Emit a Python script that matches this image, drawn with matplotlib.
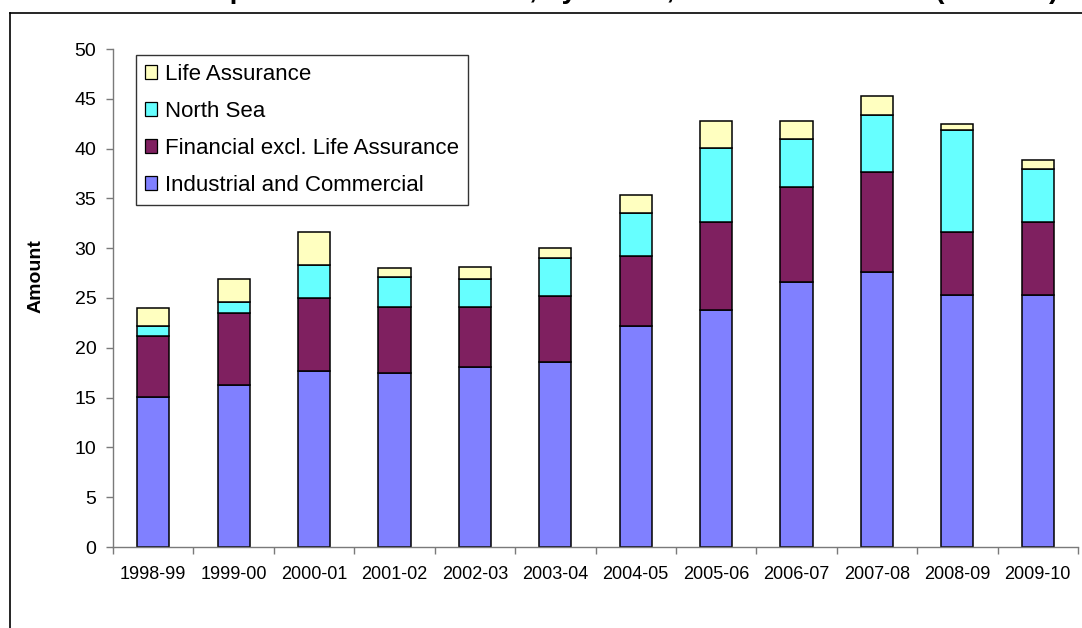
import numpy as np
import matplotlib.pyplot as plt
from matplotlib.patches import Patch
from matplotlib.lines import Line2D

plt.rcParams['font.family'] = ['Liberation Sans', 'DejaVu Sans']

# values, £ billion
years = ['1998-99', '1999-00', '2000-01', '2001-02', '2002-03', '2003-04',
         '2004-05', '2005-06', '2006-07', '2007-08', '2008-09', '2009-10']
industrial = [15.1, 16.3, 17.7, 17.5, 18.1, 18.6, 22.2, 23.8, 26.6, 27.6, 25.3, 25.3]
financial = [6.1, 7.15, 7.3, 6.6, 6.0, 6.6, 7.0, 8.85, 9.55, 10.05, 6.3, 7.3]
north_sea = [1.0, 1.15, 3.3, 3.0, 2.8, 3.8, 4.3, 7.45, 4.8, 5.7, 10.25, 5.4]
life = [1.8, 2.3, 3.3, 0.9, 1.25, 1.0, 1.8, 2.65, 1.8, 1.95, 0.65, 0.9]

series = [('Industrial and Commercial', industrial, '#8080ff'),
          ('Financial excl. Life Assurance', financial, '#7f2060'),
          ('North Sea', north_sea, '#66ffff'),
          ('Life Assurance', life, '#ffffc0')]

W, H = 1082, 628
fig = plt.figure(figsize=(W / 100, H / 100), dpi=100)
ax = fig.add_axes([113 / W, (H - 547) / H, 965 / W, 498 / H])

x = np.arange(len(years))
bottom = np.zeros(len(years))
for name, vals, col in series:
    ax.bar(x, vals, width=0.4, bottom=bottom, color=col,
           edgecolor='black', linewidth=1.1, label=name)
    bottom += np.array(vals)

ax.set_xlim(-0.5, len(years) - 0.5)
ax.set_ylim(0, 50)
ax.set_yticks(range(0, 51, 5))
ax.set_xticks(x)
ax.set_xticklabels(years)
ax.set_xticks(np.arange(-0.5, len(years)), minor=True)

for s in ['top', 'right']:
    ax.spines[s].set_visible(False)
for s in ['left', 'bottom']:
    ax.spines[s].set_color('#7a7a7a')
    ax.spines[s].set_linewidth(1.0)

ax.tick_params(axis='y', direction='out', length=5, width=1.0, color='#7a7a7a',
               labelsize=14, pad=7)
ax.tick_params(axis='x', which='major', length=0, labelsize=13, pad=14)
ax.tick_params(axis='x', which='minor', direction='out', length=5, width=1.0,
               color='#7a7a7a')

ax.set_ylabel('Amount', fontsize=14, fontweight='bold')
ax.yaxis.set_label_coords((45 - 113) / 965, (547 - 276) / 498)

handles = [Patch(facecolor=c, edgecolor='black', linewidth=0.9) for _, _, c in series][::-1]
labels = [n for n, _, _ in series][::-1]
leg = ax.legend(handles, labels, loc='upper left',
                bbox_to_anchor=((136 - 113) / 965, (547 - 55) / 498),
                fontsize=16, frameon=True, fancybox=False, borderaxespad=0,
                handlelength=0.55, handleheight=0.55, handletextpad=0.35,
                labelspacing=0.72, borderpad=0.4)
leg.get_frame().set_edgecolor('black')
leg.get_frame().set_linewidth(1.0)

# chart area border, runs off the right and bottom edges
fig.add_artist(Line2D([10 / W, 10 / W], [-0.01, 1 - 13 / H], color='black',
                      linewidth=1.2, transform=fig.transFigure))
fig.add_artist(Line2D([10 / W, 1.01], [1 - 13 / H, 1 - 13 / H], color='black',
                      linewidth=1.2, transform=fig.transFigure))

# title sits above the crop, only the descenders show
fig.text(1058 / W, 1.003, 'Corporation Tax Liabilities, by sector, 1998-99 to 2009-10 (£ billion)',
         ha='right', va='baseline', fontsize=20, fontweight='bold')

fig.savefig('out.png', dpi=100)
